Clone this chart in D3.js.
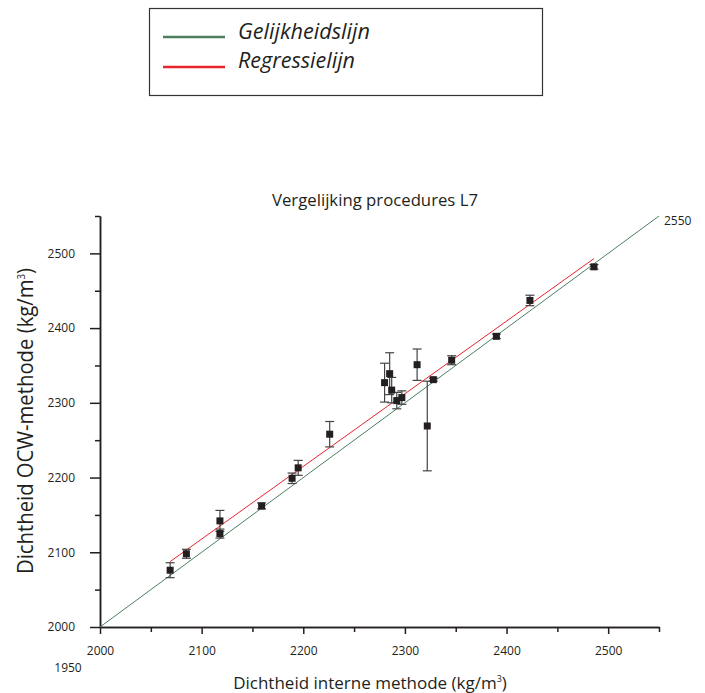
<!DOCTYPE html>
<html>
<head>
<meta charset="utf-8">
<script src="https://cdn.jsdelivr.net/npm/d3@7"></script>
<style>
  body { margin: 0; background: #fff; }
  svg { display: block; font-family: "Open Sans", sans-serif; }
</style>
</head>
<body>
<div class="chart"></div>
<script>
// data
const xVals = [2069, 2085, 2118, 2118, 2159, 2189, 2195, 2226, 2280, 2285, 2287, 2292, 2297, 2312, 2322, 2328, 2346, 2390, 2423, 2486];
const yVals = [2076, 2098, 2142, 2125, 2162, 2199, 2213, 2258, 2327, 2339, 2317, 2303, 2307, 2351, 2269, 2331, 2357, 2389, 2437, 2482];
const yErr  = [10, 6, 14, 6, 4, 7, 10, 17, 26, 28, 17, 11, 9, 21, 60, 2, 6, 3, 7, 3];
const equalityLine = [2000, 2550];
const regressionX = [2069, 2486];
const regressionY = [2087.5, 2493];
const majorTicks = [2000, 2100, 2200, 2300, 2400, 2500];
const minorTicks = [2050, 2150, 2250, 2350, 2450, 2550];
const legendLabels = ["Gelijkheidslijn", "Regressielijn"];

const width = 705, height = 693;
const green = "#4d7f5f", red = "#e8242c", ink = "#231f20";

const svg = d3.select('.chart').append('svg').attr('width', width).attr('height', height);

const x = d3.scaleLinear().domain([2000, 2550]).range([100, 659]);
const y = d3.scaleLinear().domain([2000, 2550]).range([627, 216]);

// legend box
const legend = svg.append('g');
legend.append('rect').attr('x', 149.5).attr('y', 8.5).attr('width', 393).attr('height', 87)
  .attr('fill', 'none').attr('stroke', '#333').attr('stroke-width', 1.2);
[green, red].forEach((c, i) => {
  legend.append('line').attr('x1', 163).attr('x2', 225).attr('y1', 37 + i * 30).attr('y2', 37 + i * 30)
    .attr('stroke', c).attr('stroke-width', 2.6);
  legend.append('text').attr('x', 238).attr('y', 39 + i * 29)
    .attr('font-size', 21).attr('font-style', 'italic').attr('fill', ink)
    .attr('textLength', i === 0 ? 132 : 117).attr('lengthAdjust', 'spacingAndGlyphs')
    .text(legendLabels[i]);
});

// title
svg.append('text').attr('x', 375).attr('y', 206).attr('text-anchor', 'middle')
  .attr('font-size', 17).attr('fill', ink)
  .attr('textLength', 206).attr('lengthAdjust', 'spacingAndGlyphs')
  .text('Vergelijking procedures L7');

// axes
function styleAxis(g) {
  g.selectAll('path, line').attr('stroke', ink).attr('stroke-width', 1.5);
  g.selectAll('text').attr('font-size', 12).attr('fill', ink).attr('font-family', '"Open Sans", sans-serif');
}
svg.append('g').attr('transform', 'translate(0,627)')
  .call(d3.axisBottom(x).tickValues(majorTicks).tickFormat(d3.format('d')).tickSize(7).tickSizeOuter(0).tickPadding(12))
  .call(styleAxis);
svg.append('g').attr('transform', 'translate(0,627)')
  .call(d3.axisBottom(x).tickValues(minorTicks).tickFormat('').tickSize(5).tickSizeOuter(0))
  .call(styleAxis);
svg.append('g').attr('transform', 'translate(100,0)')
  .call(d3.axisLeft(y).tickValues(majorTicks).tickFormat(d3.format('d')).tickSize(10).tickSizeOuter(0).tickPadding(15))
  .call(styleAxis);
svg.append('g').attr('transform', 'translate(100,0)')
  .call(d3.axisLeft(y).tickValues(minorTicks).tickFormat('').tickSize(5).tickSizeOuter(0))
  .call(styleAxis);

// stray 1950 label below the origin
svg.append('text').attr('x', 68).attr('y', 672).attr('text-anchor', 'middle')
  .attr('font-size', 12).attr('fill', ink).text('1950');

// axis titles
svg.append('text').attr('x', 370).attr('y', 689).attr('text-anchor', 'middle')
  .attr('font-size', 17).attr('fill', ink)
  .html('Dichtheid interne methode (kg/m<tspan dy="-7" font-size="9">3</tspan><tspan dy="7">)</tspan>');
svg.append('text').attr('transform', 'translate(33,421) rotate(-90)').attr('text-anchor', 'middle')
  .attr('font-size', 21).attr('fill', ink)
  .attr('textLength', 306).attr('lengthAdjust', 'spacingAndGlyphs')
  .html('Dichtheid OCW-methode (kg/m<tspan dy="-8" font-size="10">3</tspan><tspan dy="8">)</tspan>');

// equality line and its end label
svg.append('line')
  .attr('x1', x(equalityLine[0])).attr('y1', y(equalityLine[0]))
  .attr('x2', x(equalityLine[1])).attr('y2', y(equalityLine[1]))
  .attr('stroke', green).attr('stroke-width', 1);
svg.append('text').attr('x', x(equalityLine[1]) + 5).attr('y', y(equalityLine[1]) + 9)
  .attr('font-size', 12).attr('fill', ink).text(equalityLine[1]);

// regression line
svg.append('line')
  .attr('x1', x(regressionX[0])).attr('y1', y(regressionY[0]))
  .attr('x2', x(regressionX[1])).attr('y2', y(regressionY[1]))
  .attr('stroke', red).attr('stroke-width', 1);

// error bars
const points = xVals.map((v, i) => ({ x: v, y: yVals[i], e: yErr[i] }));
const bars = svg.append('g').attr('stroke', '#444').attr('stroke-width', 1.2);
points.forEach(d => {
  const cx = x(d.x);
  bars.append('line').attr('x1', cx).attr('x2', cx).attr('y1', y(d.y - d.e)).attr('y2', y(d.y + d.e));
  [d.y - d.e, d.y + d.e].forEach(v => {
    bars.append('line').attr('x1', cx - 4.5).attr('x2', cx + 4.5).attr('y1', y(v)).attr('y2', y(v));
  });
});

// markers
svg.append('g').selectAll('rect').data(points).enter().append('rect')
  .attr('x', d => x(d.x) - 3.5).attr('y', d => y(d.y) - 3.5)
  .attr('width', 7).attr('height', 7).attr('fill', ink);
</script>
</body>
</html>
